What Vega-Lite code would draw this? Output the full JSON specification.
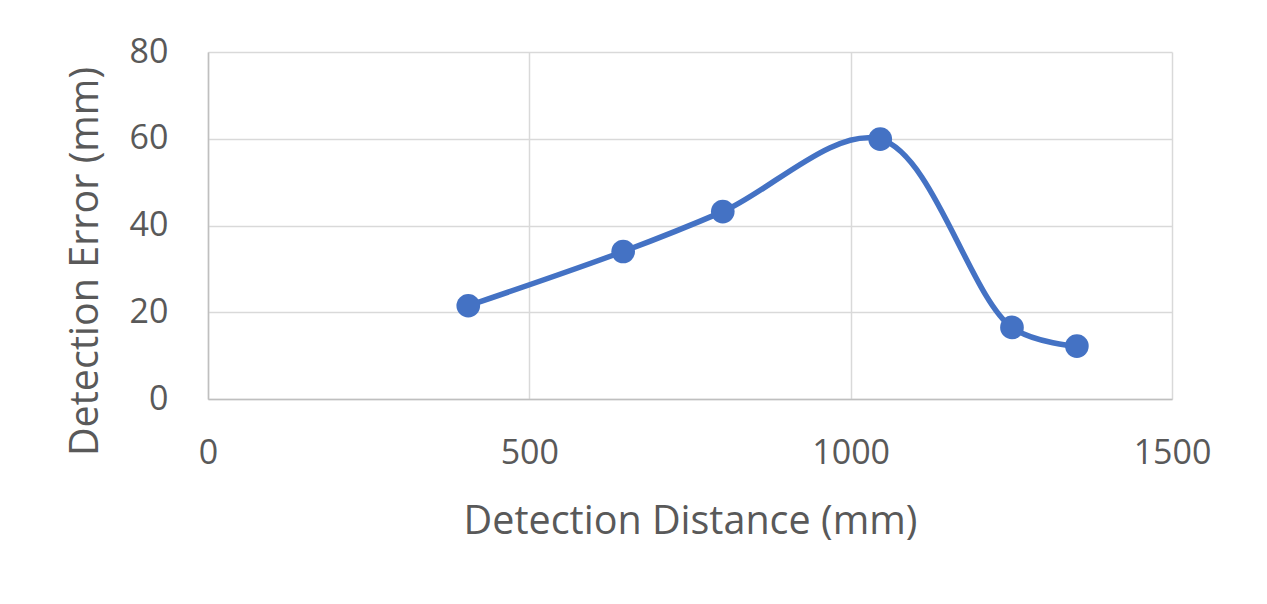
{
  "$schema": "https://vega.github.io/schema/vega-lite/v6.json",
  "width": 964,
  "height": 347,
  "autosize": {"type": "none"},
  "padding": {"left": 208, "top": 52, "right": 95, "bottom": 205},
  "background": "white",
  "config": {
    "view": {"stroke": null},
    "font": "Open Sans"
  },
  "data": {
    "values": [
      {"distance": 405, "error": 21.5},
      {"distance": 646, "error": 34.0},
      {"distance": 801, "error": 43.2},
      {"distance": 1046, "error": 59.9},
      {"distance": 1251, "error": 16.5},
      {"distance": 1352, "error": 12.2}
    ]
  },
  "encoding": {
    "x": {
      "field": "distance",
      "type": "quantitative",
      "scale": {"domain": [0, 1500], "nice": false},
      "axis": {
        "title": "Detection Distance (mm)",
        "values": [0, 500, 1000, 1500],
        "format": "d",
        "labelFlush": false,
        "labelOverlap": false,
        "ticks": false,
        "labelPadding": 37,
        "labelFontSize": 34,
        "labelColor": "#595959",
        "labelFont": "Open Sans",
        "titleFont": "Open Sans",
        "titleFontSize": 39.5,
        "titleFontWeight": "normal",
        "titleColor": "#595959",
        "titlePadding": 32,
        "domainColor": "#bfbfbf",
        "domainWidth": 1.5,
        "gridColor": "#d9d9d9",
        "gridWidth": 1.5
      }
    },
    "y": {
      "field": "error",
      "type": "quantitative",
      "scale": {"domain": [0, 80], "nice": false},
      "axis": {
        "title": "Detection Error (mm)",
        "values": [0, 20, 40, 60, 80],
        "ticks": false,
        "labelPadding": 40,
        "labelFontSize": 34,
        "labelColor": "#595959",
        "labelFont": "Open Sans",
        "labelOverlap": false,
        "titleFont": "Open Sans",
        "titleFontSize": 39.5,
        "titleFontWeight": "normal",
        "titleColor": "#595959",
        "titleX": -103,
        "titleY": 209,
        "domainColor": "#bfbfbf",
        "domainWidth": 1.5,
        "gridColor": "#d9d9d9",
        "gridWidth": 1.5
      }
    }
  },
  "layer": [
    {
      "mark": {"type": "line", "interpolate": "catmull-rom", "color": "#4472c4", "strokeWidth": 5.5}
    },
    {
      "mark": {"type": "point", "filled": true, "shape": "circle", "size": 560, "color": "#4472c4", "opacity": 1}
    }
  ]
}
